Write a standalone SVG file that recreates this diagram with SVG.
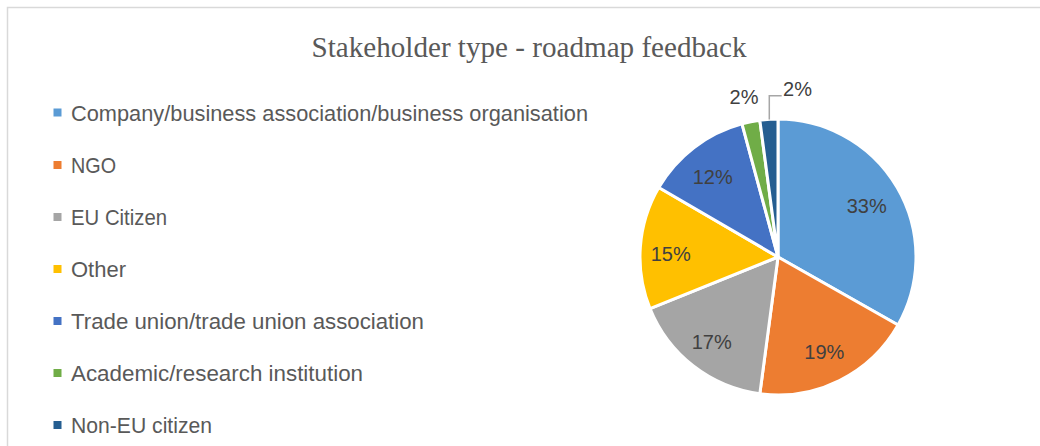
<svg xmlns="http://www.w3.org/2000/svg" width="1040" height="446" viewBox="0 0 1040 446">
  <style>
    .frame { stroke: #D9D9D9; stroke-width: 1.5; fill: none; }
    .title { font-family: "Liberation Serif", "Times New Roman", serif; font-size: 29px; fill: #595959; }
    .leg { font-family: "Liberation Sans", Arial, sans-serif; font-size: 21.5px; fill: #595959; }
    .pct { font-family: "Liberation Sans", Arial, sans-serif; font-size: 20px; fill: #404040; text-anchor: middle; }
    .slice { stroke: #FFFFFF; stroke-width: 3; stroke-linejoin: round; }
    .leader { stroke: #A6A6A6; stroke-width: 1.5; fill: none; }
  </style>
  <rect x="0" y="0" width="1040" height="446" fill="#FFFFFF"/>
  <path class="frame" d="M7.5,446 V7.5 H1040"/>
  <text class="title" x="529" y="57" text-anchor="middle" textLength="435" lengthAdjust="spacingAndGlyphs">Stakeholder type - roadmap feedback</text>

  <g id="legend">
    <g id="legend-company">
      <rect x="53.5" y="108.5" width="8" height="8" fill="#5B9BD5"/>
      <text class="leg" x="71" y="120.5" textLength="517" lengthAdjust="spacingAndGlyphs">Company/business association/business organisation</text>
    </g>
    <g id="legend-ngo">
      <rect x="53.5" y="161" width="8" height="8" fill="#ED7D31"/>
      <text class="leg" x="71" y="172.5" textLength="45" lengthAdjust="spacingAndGlyphs">NGO</text>
    </g>
    <g id="legend-eu">
      <rect x="53.5" y="213" width="8" height="8" fill="#A5A5A5"/>
      <text class="leg" x="71" y="224.5" textLength="96" lengthAdjust="spacingAndGlyphs">EU Citizen</text>
    </g>
    <g id="legend-other">
      <rect x="53.5" y="265" width="8" height="8" fill="#FFC000"/>
      <text class="leg" x="71" y="276.5" textLength="55" lengthAdjust="spacingAndGlyphs">Other</text>
    </g>
    <g id="legend-trade">
      <rect x="53.5" y="317" width="8" height="8" fill="#4472C4"/>
      <text class="leg" x="71" y="328.5" textLength="353" lengthAdjust="spacingAndGlyphs">Trade union/trade union association</text>
    </g>
    <g id="legend-academic">
      <rect x="53.5" y="369" width="8" height="8" fill="#70AD47"/>
      <text class="leg" x="71" y="380.5" textLength="292" lengthAdjust="spacingAndGlyphs">Academic/research institution</text>
    </g>
    <g id="legend-noneu">
      <rect x="53.5" y="421" width="8" height="8" fill="#255E91"/>
      <text class="leg" x="71" y="432.5" textLength="141" lengthAdjust="spacingAndGlyphs">Non-EU citizen</text>
    </g>
  </g>

  <g id="pie">
    <g id="slice-company">
      <path class="slice" fill="#5B9BD5" d="M778,257 L778,119 A138,138 0 0 1 898.07,324.99 Z"/>
      <text class="pct" x="866.7" y="212.5">33%</text>
    </g>
    <g id="slice-ngo">
      <path class="slice" fill="#ED7D31" d="M778,257 L898.07,324.99 A138,138 0 0 1 759.84,393.8 Z"/>
      <text class="pct" x="824.3" y="359">19%</text>
    </g>
    <g id="slice-eu">
      <path class="slice" fill="#A5A5A5" d="M778,257 L759.84,393.8 A138,138 0 0 1 650.0,308.6 Z"/>
      <text class="pct" x="711.7" y="349">17%</text>
    </g>
    <g id="slice-other">
      <path class="slice" fill="#FFC000" d="M778,257 L650.0,308.6 A138,138 0 0 1 658.77,187.52 Z"/>
      <text class="pct" x="670.7" y="261">15%</text>
    </g>
    <g id="slice-trade">
      <path class="slice" fill="#4472C4" d="M778,257 L658.77,187.52 A138,138 0 0 1 742.01,123.78 Z"/>
      <text class="pct" x="712.7" y="183.5">12%</text>
    </g>
    <g id="slice-academic">
      <path class="slice" fill="#70AD47" d="M778,257 L742.01,123.78 A138,138 0 0 1 759.84,120.2 Z"/>
      <text class="pct" x="744" y="103.5">2%</text>
    </g>
    <g id="slice-noneu">
      <path class="slice" fill="#255E91" d="M778,257 L759.84,120.2 A138,138 0 0 1 778,119 Z"/>
      <text class="pct" x="797.5" y="96">2%</text>
    </g>
  </g>

  <g id="connectors">
    <path class="leader" d="M769.3,119.5 V95.7 H781.7"/>
  </g>
</svg>
